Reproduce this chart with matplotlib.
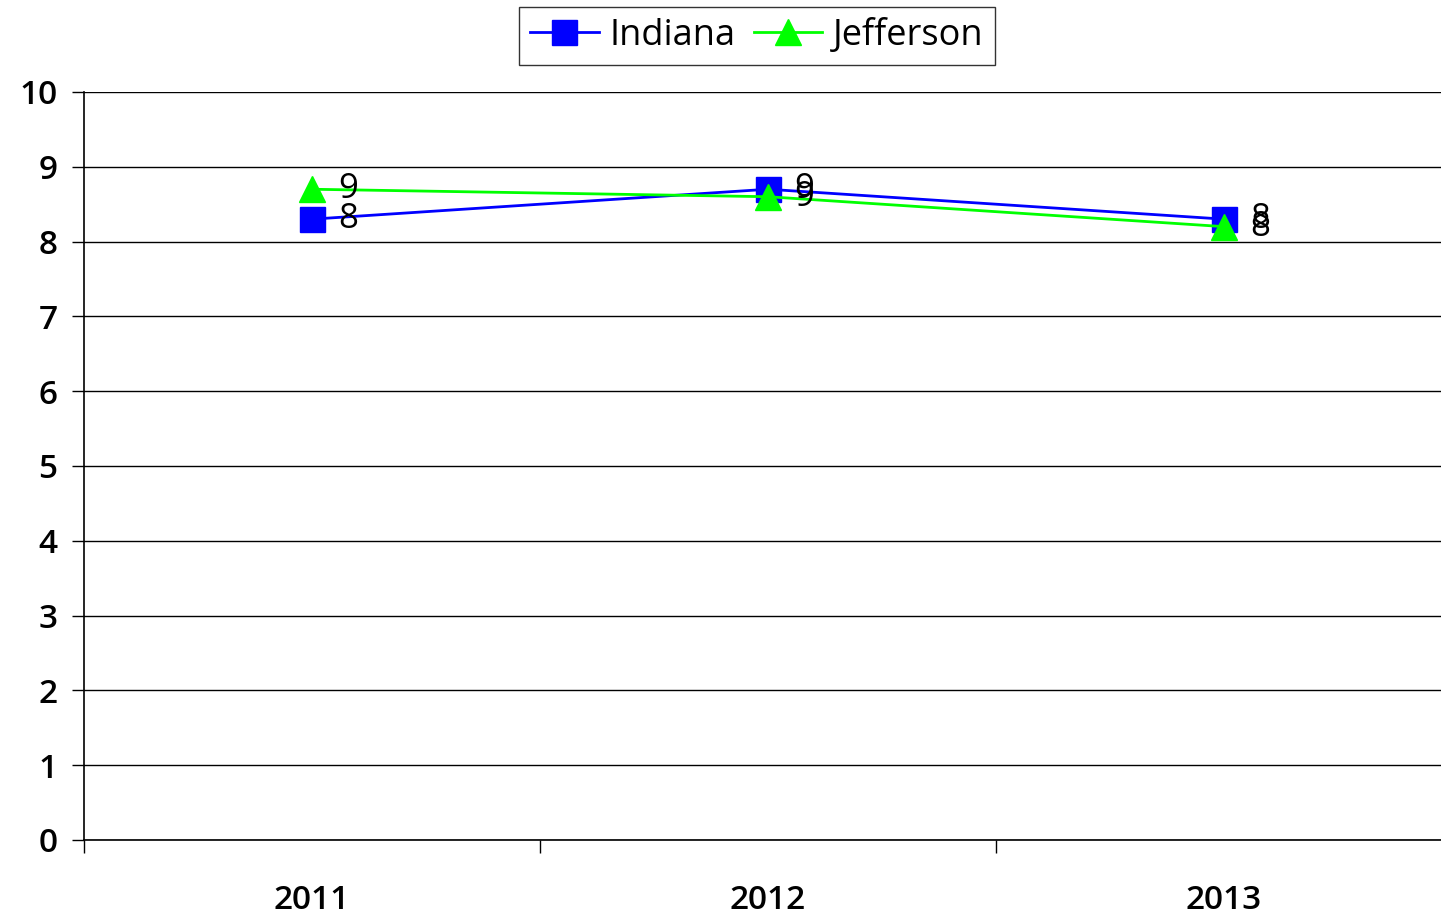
import matplotlib.pyplot as plt
from matplotlib.ticker import FixedLocator

plt.rcParams['font.family'] = ['Open Sans', 'DejaVu Sans']

years = ['2011', '2012', '2013']
indiana = [8.3, 8.7, 8.3]
jefferson = [8.7, 8.6, 8.2]
indiana_labels = ['8', '9', '8']
jefferson_labels = ['9', '9', '8']

fig = plt.figure(figsize=(14.41, 9.19), dpi=100)
# plot area runs slightly past the right edge of the figure
ax = fig.add_axes([84/1441, 1-840/919, 1368/1441, (840-92)/919])

x = list(range(len(years)))
ax.plot(x, indiana, color='#0000ff', lw=2, marker='s', ms=18,
        label='Indiana', zorder=3, clip_on=False)
ax.plot(x, jefferson, color='#00ff00', lw=2, marker='^', ms=19,
        label='Jefferson', zorder=4, clip_on=False)

for xi, v, t in zip(x, indiana, indiana_labels):
    ax.annotate(t, (xi, v), xytext=(19, 0), textcoords='offset points',
                ha='left', va='center', fontsize=25, fontweight='medium',
                color='black', zorder=5)
for xi, v, t in zip(x, jefferson, jefferson_labels):
    ax.annotate(t, (xi, v), xytext=(19, 0), textcoords='offset points',
                ha='left', va='center', fontsize=25, fontweight='medium',
                color='black', zorder=5)

ax.set_xlim(-0.5, 2.5)
ax.set_ylim(0, 10)
ax.set_yticks(range(0, 11))
ax.yaxis.grid(True, color='black', lw=1.0)
ax.set_axisbelow(True)

ax.set_xticks(x)
ax.set_xticklabels(years, fontsize=24, fontweight='semibold')
ax.xaxis.set_minor_locator(FixedLocator([-0.5, 0.5, 1.5]))
ax.tick_params(axis='x', which='major', length=0, pad=32)
ax.tick_params(axis='x', which='minor', length=9, width=1.0, direction='out')
ax.tick_params(axis='y', length=9, width=1.0, pad=10, labelsize=24)
for lbl in ax.get_yticklabels():
    lbl.set_fontweight('semibold')

for s in ['top', 'right']:
    ax.spines[s].set_visible(False)
ax.spines['left'].set_linewidth(1.2)
ax.spines['bottom'].set_linewidth(1.2)

leg = fig.legend(loc='upper center', bbox_to_anchor=(757/1441, 1-7/919),
                 ncol=2, fontsize=26, frameon=True, fancybox=False,
                 edgecolor='black', handlelength=1.9, handletextpad=0.3,
                 columnspacing=0.5, borderpad=0.3, borderaxespad=0,
                 markerscale=1.0)
leg.get_frame().set_linewidth(1.0)

fig.savefig('out.png', dpi=100)
